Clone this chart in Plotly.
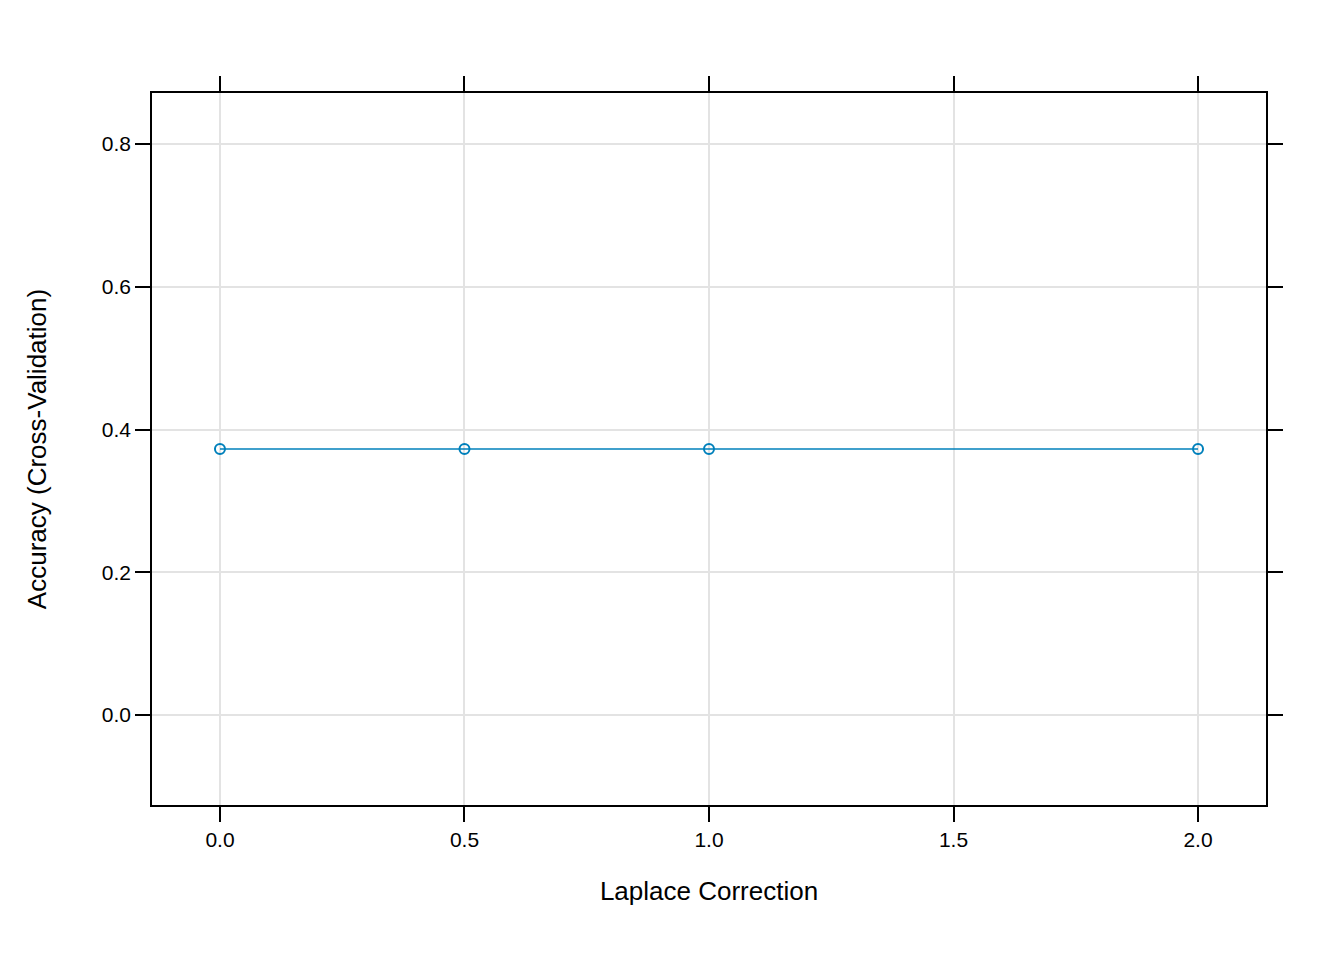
import plotly.graph_objects as go

laplace = [0.0, 0.5, 1.0, 2.0]
accuracy = [0.3727, 0.3727, 0.3727, 0.3727]
x_ticks = [0.0, 0.5, 1.0, 1.5, 2.0]
y_ticks = [0.0, 0.2, 0.4, 0.6, 0.8]

fig = go.Figure()
fig.add_trace(go.Scatter(
    x=laplace, y=accuracy, mode="lines+markers",
    line=dict(color="#0080BB", width=1.5),
    marker=dict(symbol="circle-open", size=10, color="#0080BB", line=dict(width=2)),
))

axis_common = dict(
    showline=True, linecolor="black", linewidth=1.5, mirror="allticks",
    ticks="outside", ticklen=15, tickcolor="black", tickwidth=1.5,
    showgrid=True, gridcolor="#E3E3E3", gridwidth=1.5, zeroline=False,
    tickfont=dict(family="Liberation Sans, Arial", size=21, color="black"),
)

fig.update_xaxes(
    range=[-0.139, 2.139], tickvals=x_ticks,
    ticktext=[f"{v:.1f}" for v in x_ticks],
    title=dict(text="Laplace Correction", font=dict(family="Liberation Sans, Arial", size=26, color="black"), standoff=32),
    **axis_common,
)
fig.update_yaxes(
    range=[-0.126, 0.8715], tickvals=y_ticks,
    ticktext=[f"{v:.1f}" for v in y_ticks],
    title=dict(text="Accuracy (Cross-Validation)", font=dict(family="Liberation Sans, Arial", size=26, color="black"), standoff=48),
    **axis_common,
)

fig.update_layout(
    width=1344, height=960,
    margin=dict(l=144, r=86, t=85, b=163),
    paper_bgcolor="white", plot_bgcolor="white",
    showlegend=False,
)

fig.write_html("out.html")
